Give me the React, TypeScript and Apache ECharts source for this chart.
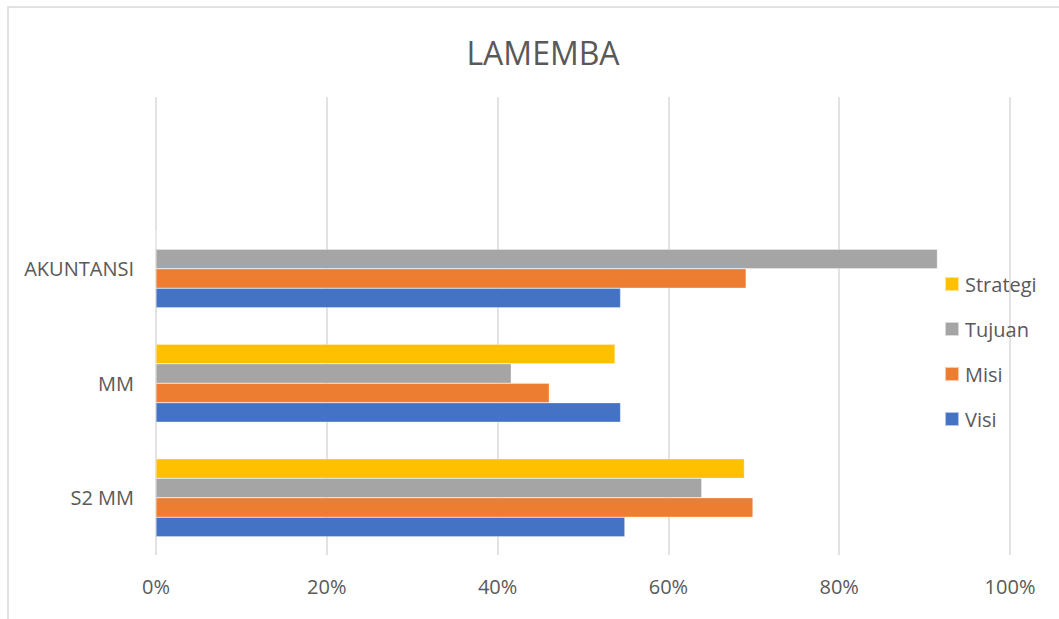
import React, { useEffect, useRef } from "react";
import * as echarts from "echarts";

const categories = ["S2 MM", "MM", "AKUNTANSI", ""];
const visi = [0.549, 0.544, 0.544, null];
const misi = [0.699, 0.4605, 0.691, null];
const tujuan = [0.639, 0.416, 0.915, null];
const strategi = [0.689, 0.5375, 0, null];
const xTicks = [0, 0.2, 0.4, 0.6, 0.8, 1];

// order: top bar of each group first
const seriesNames = ["Strategi", "Tujuan", "Misi", "Visi"];
const seriesColors = ["#FFC000", "#A5A5A5", "#ED7D31", "#4472C4"];
const seriesData = [strategi, tujuan, misi, visi];

export default function App() {
  const ref = useRef<HTMLDivElement>(null);
  useEffect(() => {
    if (!ref.current) return;
    const chart = echarts.init(ref.current, null, { renderer: "svg" });
    const font = "'Open Sans', 'Noto Sans', sans-serif";
    chart.setOption({
      animation: false,
      textStyle: { fontFamily: font },
      title: {
        text: "LAMEMBA",
        left: 538,
        textAlign: "center",
        top: 31,
        textStyle: { fontSize: 32, fontWeight: "normal", color: "#595959", fontFamily: font },
      },
      graphic: [
        {
          type: "rect",
          shape: { x: 8, y: 7, width: 1200, height: 800 },
          style: { fill: "none", stroke: "#d9d9d9", lineWidth: 1.5 },
          silent: true,
        },
      ],
      legend: {
        orient: "vertical",
        left: 939,
        top: 269,
        itemWidth: 14,
        itemHeight: 14,
        itemGap: 25,
        icon: "rect",
        data: ["Strategi", "Tujuan", "Misi", "Visi"],
        textStyle: { fontSize: 20, color: "#595959", fontFamily: font, padding: [0, 0, 0, 1] },
      },
      grid: { left: 156, right: 49, top: 97, bottom: 64, containLabel: false },
      xAxis: {
        type: "value",
        min: xTicks[0],
        max: xTicks[xTicks.length - 1],
        interval: 0.2,
        axisLine: { show: false },
        axisTick: { show: false },
        splitLine: { lineStyle: { color: "#d9d9d9", width: 1.5 } },
        axisLabel: {
          fontSize: 20,
          color: "#595959",
          margin: 21,
          formatter: (v: number) => Math.round(v * 100) + "%",
        },
      },
      yAxis: {
        type: "category",
        data: categories,
        axisLine: { show: false },
        axisTick: { show: false },
        splitLine: { show: false },
        axisLabel: { fontSize: 20, color: "#595959", margin: 22 },
      },
      series: seriesNames.map((name, i) => ({
        name,
        type: "bar",
        data: seriesData[i],
        barGap: "0%",
        barCategoryGap: "32%",
        itemStyle: { color: seriesColors[i], borderColor: "rgba(255,255,255,0.6)", borderWidth: 0.5 },
      })),
    });
    return () => chart.dispose();
  }, []);
  return (
    <div
      ref={ref}
      style={{ position: "fixed", left: 0, top: 0, width: 1059, height: 619, background: "#fff" }}
    />
  );
}
